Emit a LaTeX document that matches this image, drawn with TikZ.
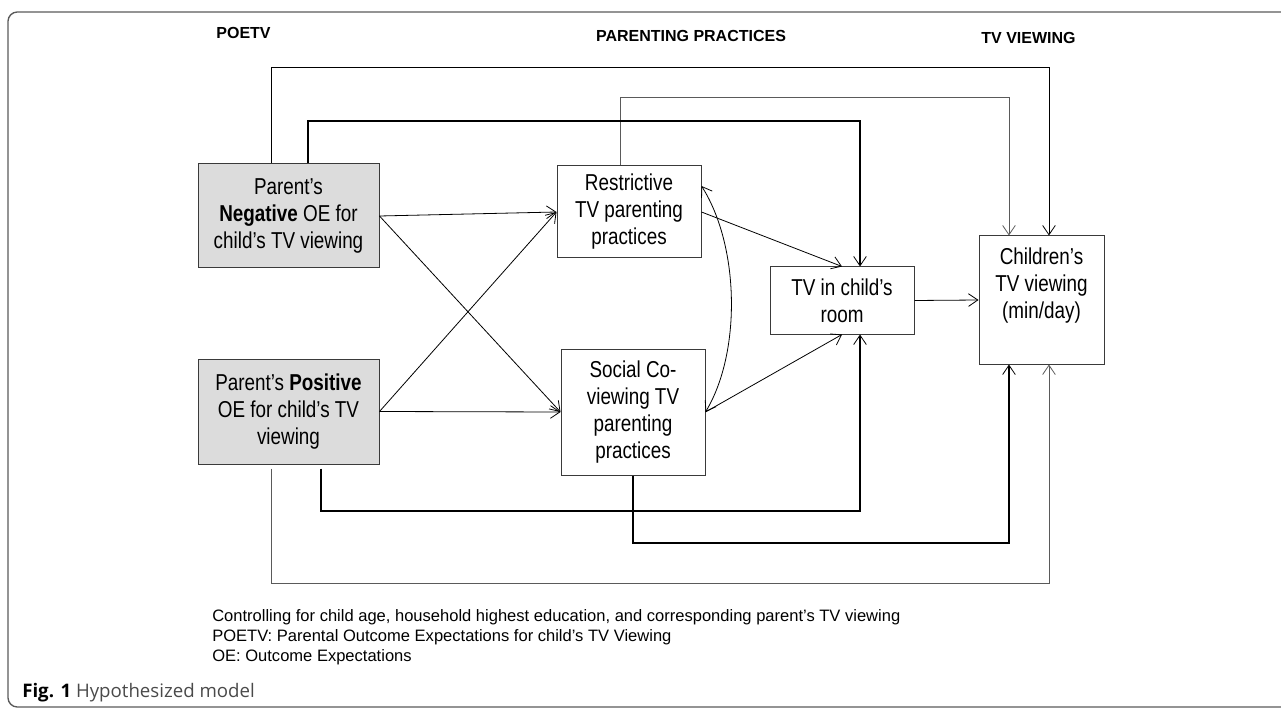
\documentclass[tikz,border=0pt]{standalone}
\usepackage{fontspec}
\setmainfont{Liberation Sans}
\newfontfamily\narrowsf{Liberation Sans}[FakeStretch=0.82]
\newfontfamily\capsf{Open Sans}
\usetikzlibrary{arrows.meta}
\definecolor{boxgray}{HTML}{DCDCDC}
\definecolor{linegray}{HTML}{3A3A3A}
\definecolor{lightline}{HTML}{5A5A5A}
\definecolor{capgray}{HTML}{4A4A4A}
\tikzset{box/.style={draw=linegray, line width=0.75pt, align=center, inner sep=0pt, font=\narrowsf\fontsize{17.25}{20.25}\selectfont},
  oebox/.style={box, fill=boxgray},
  head/.style={font=\bfseries\fontsize{12}{14}\selectfont, inner sep=0pt},
  note/.style={font=\fontsize{12.4}{15}\selectfont, align=left, anchor=west, inner sep=0pt},
  conn/.style={-{Straight Barb[length=7pt,width=9.5pt,line width=0.6pt]}, line width=0.6pt, draw=black},
  thickconn/.style={conn, line width=1.5pt},
  biconn/.style={{Straight Barb[length=7pt,width=9.5pt,line width=0.6pt]}-{Straight Barb[length=7pt,width=9.5pt,line width=0.6pt]}, line width=0.6pt}}

\begin{document}
\begin{tikzpicture}[x=0.75pt,y=-0.75pt]
  \useasboundingbox (0,0) rectangle (1281,709);
  \draw[lightline, line width=1pt, rounded corners=7pt] (1290,12) -- (8,12) -- (8,707) -- (1290,707);

  \node[head] (hpoetv) at (243.5,33) {POETV};
  \node[head] (hpar) at (691,36) {PARENTING PRACTICES};
  \node[head] (htv) at (1028.5,38) {TV VIEWING};

  \node[oebox, minimum width=135.75pt, minimum height=78pt] (neg) at (288.5,216) {Parent’s\\\textbf{Negative} OE for\\child’s TV viewing};
  \node[oebox, minimum width=135.75pt, minimum height=78.75pt] (pos) at (288.5,411.5) {Parent’s \textbf{Positive}\\OE for child’s TV\\viewing};
  \node[box, minimum width=108pt, minimum height=69pt] (res) at (629,212) {Restrictive\\TV parenting\\practices};
  \node[box, minimum width=108pt, minimum height=94.5pt] (soc) at (633,412) {Social Co-\\viewing TV\\parenting\\practices};
  \node[box, minimum width=108pt, minimum height=50.25pt] (tvr) at (842,300.5) {TV in child’s\\room};
  \node[box, minimum width=93.75pt, minimum height=96pt] (chv) at (1041.5,300) {};
  \node[box, draw=none, anchor=north] (chvtext) at ([yshift=-9pt]chv.north) {Children’s\\TV viewing\\(min/day)};

  \draw[conn] (neg.east) -- (res.west);
  \draw[conn] (neg.east) -- (soc.west);
  \draw[conn] (pos.east) -- (res.west);
  \draw[conn] (pos.east) -- (soc.west);
  \draw[conn] (res.east) -- (tvr.north);
  \draw[conn] (soc.east) -- (tvr.south);
  \draw[conn] (tvr.east) -- (chv.west);
  \draw[biconn] ([yshift=19.5pt]res.east) .. controls +(38,60) and +(36,-60) .. (soc.east);

  \draw[conn] ([xshift=-13.1pt]neg.north) -- ++(0,-96) -| ([xshift=5.6pt]chv.north);
  \draw[conn, draw=lightline] ([xshift=-6.75pt]res.north) -- ++(0,-68) -| ([xshift=-24.4pt]chv.north);
  \draw[thickconn] ([xshift=14.6pt]neg.north) -- ++(0,-42) -| ([xshift=13.5pt]tvr.north);
  \draw[thickconn] ([xshift=24.4pt,yshift=-3pt]pos.south) -- ++(0,42) -| ([xshift=13.5pt]tvr.south);
  \draw[thickconn] (soc.south) -- ++(0,67) -| ([xshift=-24.4pt]chv.south);
  \draw[conn, draw=lightline] ([xshift=-13.1pt,yshift=-3pt]pos.south) -- ++(0,115) -| ([xshift=5.6pt]chv.south);

  \node[note] (notes) at (212,637) {Controlling for child age, household highest education, and corresponding parent’s TV viewing\\POETV: Parental Outcome Expectations for child’s TV Viewing\\OE: Outcome Expectations};
  \node[anchor=west, inner sep=0pt, font=\capsf\fontsize{14}{16}\selectfont] (caption) at (22,693) {\textbf{Fig. 1} \textcolor{capgray}{Hypothesized model}};
\end{tikzpicture}
\end{document}
